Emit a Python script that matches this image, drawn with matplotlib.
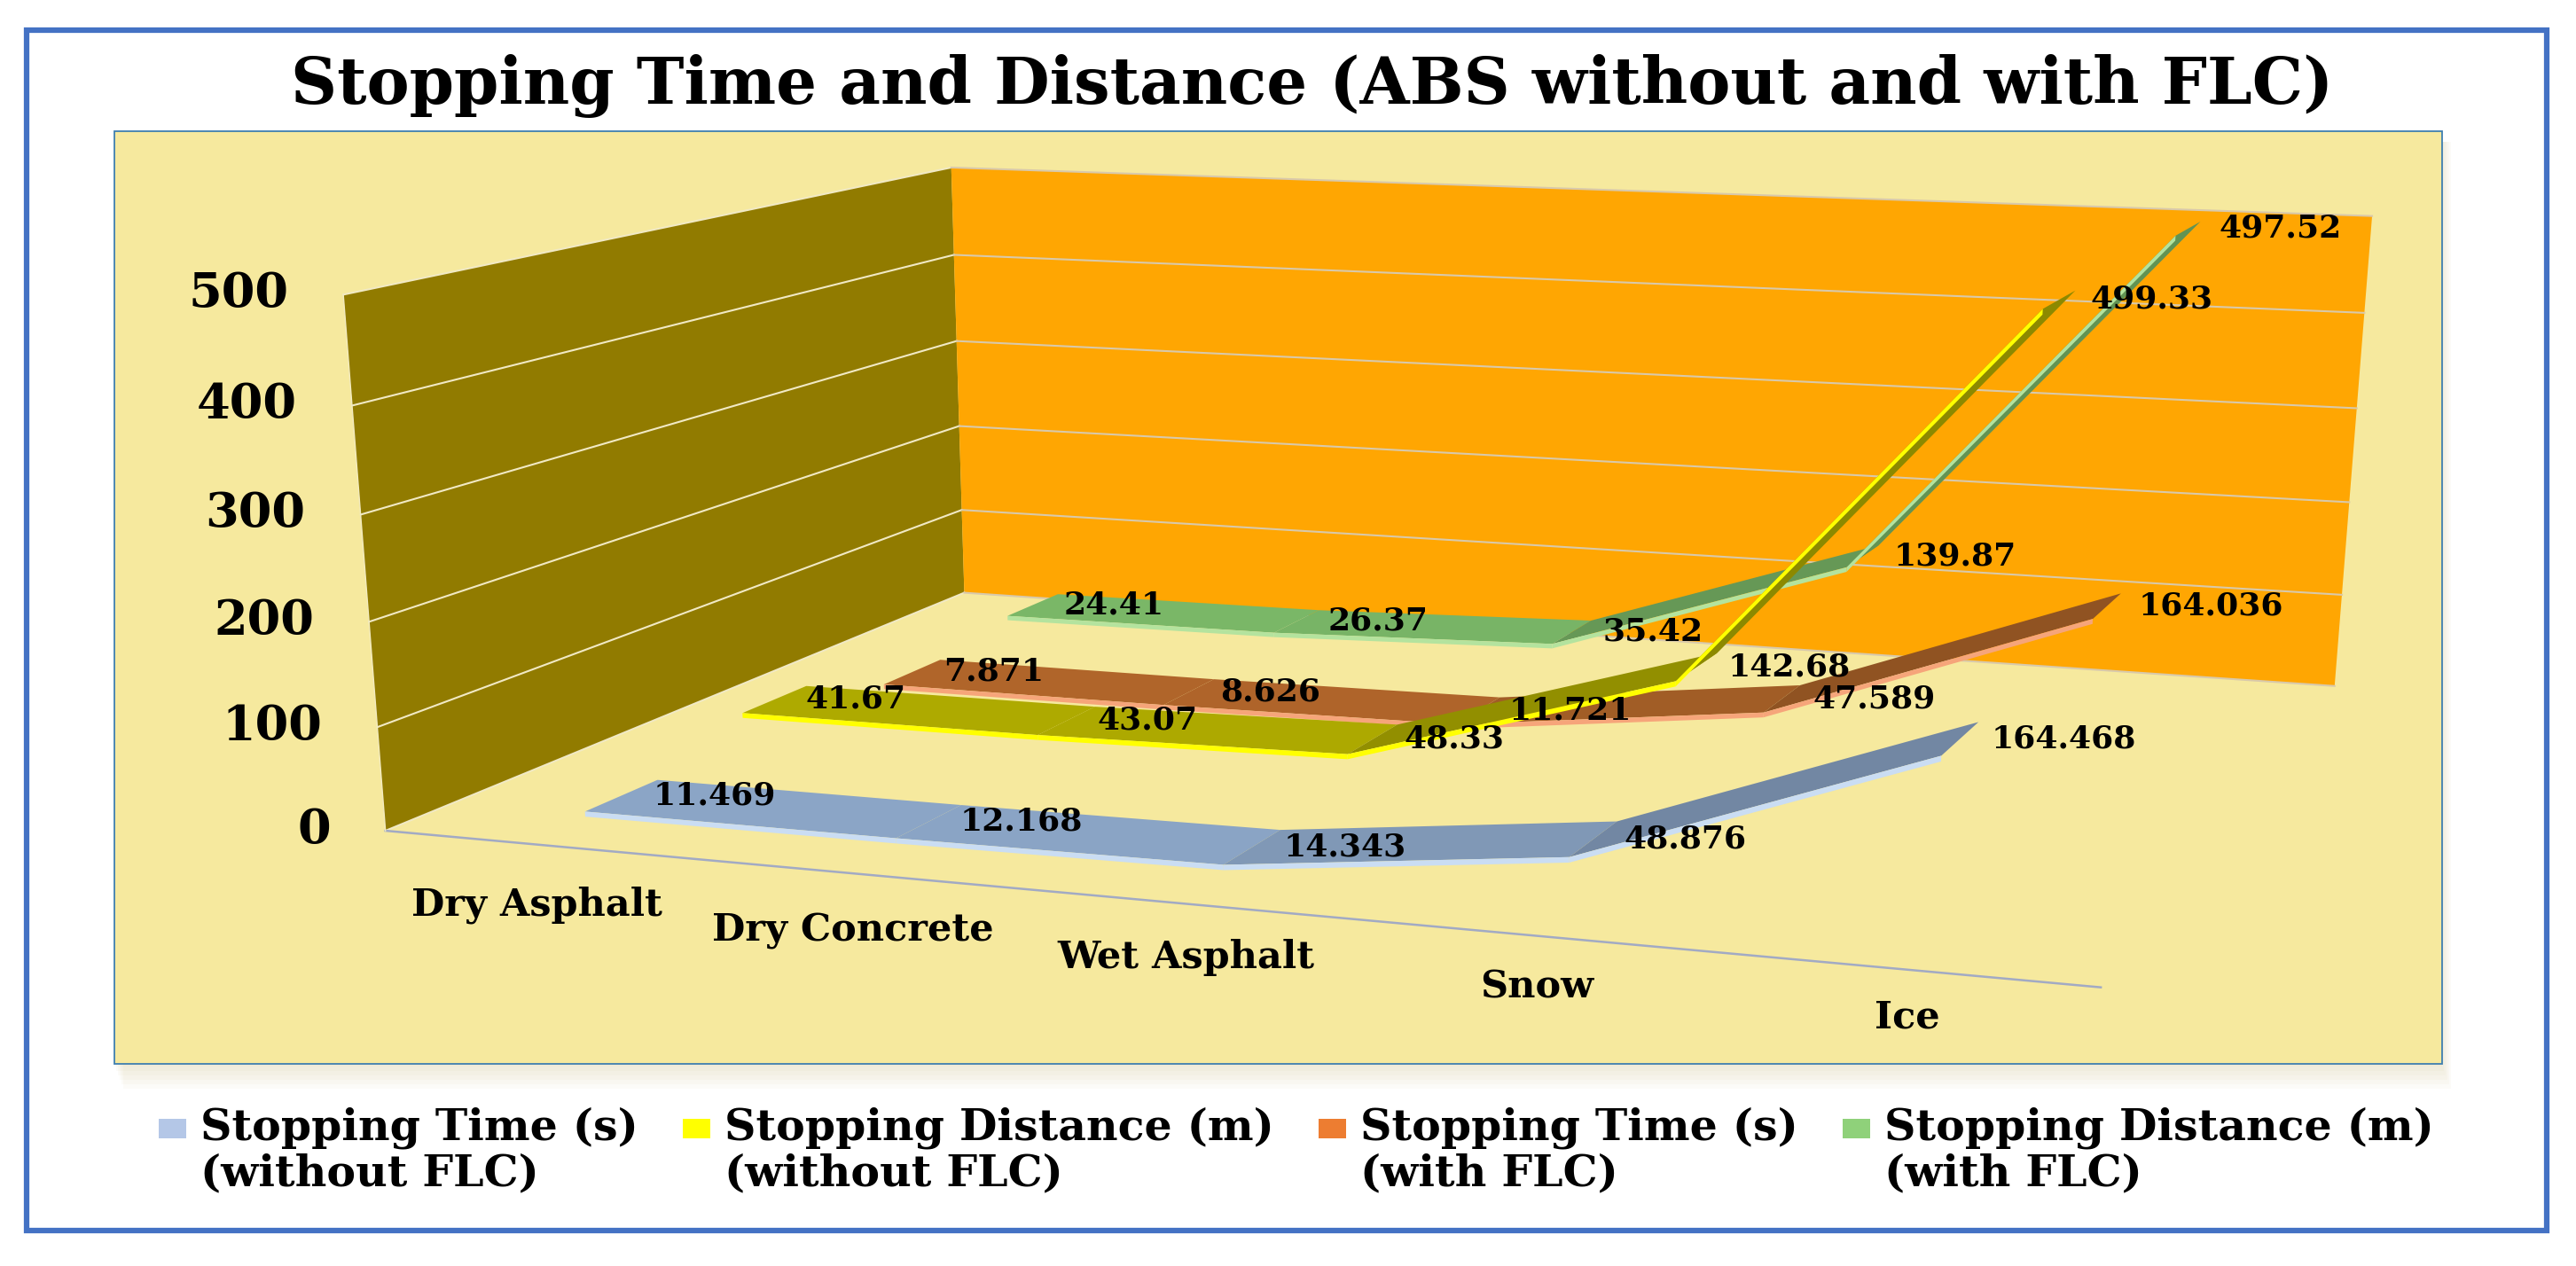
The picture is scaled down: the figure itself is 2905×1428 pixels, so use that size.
import numpy as np
import matplotlib
matplotlib.use("Agg")
import matplotlib.pyplot as plt
import matplotlib.colors as mcolors
from matplotlib.patches import Rectangle
from matplotlib.transforms import offset_copy
from mpl_toolkits.mplot3d import proj3d
from mpl_toolkits.mplot3d.art3d import Poly3DCollection

# ---------------- data ----------------
categories = ["Dry Asphalt", "Dry Concrete", "Wet Asphalt", "Snow", "Ice"]
time_without_flc = [11.469, 12.168, 14.343, 48.876, 164.468]
dist_without_flc = [41.67, 43.07, 48.33, 142.68, 499.33]
time_with_flc = [7.871, 8.626, 11.721, 47.589, 164.036]
dist_with_flc = [24.41, 26.37, 35.42, 139.87, 497.52]
value_ticks = [0, 100, 200, 300, 400, 500]
series_names = ["Stopping Time (s)\n(without FLC)",
                "Stopping Distance (m)\n(without FLC)",
                "Stopping Time (s)\n(with FLC)",
                "Stopping Distance (m)\n(with FLC)"]
title_text = "Stopping Time and Distance (ABS without and with FLC)"

series_values = [time_without_flc, dist_without_flc, time_with_flc, dist_with_flc]

# ---------------- styles ----------------
top_colors = ["#8BA5C6", "#AFAB00", "#B0652A", "#7BB868"]
front_colors = ["#CADDF3", "#FFFF00", "#F6A57A", "#B4E39E"]
legend_colors = ["#B4C7E7", "#FFFF00", "#ED7D31", "#8FD17A"]
left_wall_color = "#917B00"
back_wall_color = "#FFA602"
floor_color = "#F6E99E"
plot_bg = "#F6E99E"

plt.rcParams["font.family"] = ["DejaVu Serif"]
plt.rcParams["font.weight"] = "bold"

W, H = 2905, 1428
fig = plt.figure(figsize=(W / 100, H / 100), dpi=100, facecolor="white")
renderer = fig.canvas.get_renderer()


def px_rect(x0, y0, x1, y1, **kw):
    r = Rectangle((x0 / W, 1 - y1 / H), (x1 - x0) / W, (y1 - y0) / H,
                  transform=fig.transFigure, **kw)
    fig.add_artist(r)
    return r


# outer frame, plot area with soft shadow
px_rect(30, 34, 2872, 1388, fill=False, edgecolor="#4472C4", linewidth=4.5, zorder=-1)
for k in range(6):
    px_rect(129 + 2 * k, 160, 2754 + 2 * k, 1203 + 5 * k, facecolor="#C9BC7A",
            edgecolor="none", alpha=0.05, zorder=-4)
px_rect(129, 148, 2754, 1200, facecolor=plot_bg, edgecolor="#3F7FB0",
        linewidth=1.3, zorder=-2)

# title (scaled to the reference width)
ttl = fig.text(1480 / W, 1 - 117 / H, title_text, ha="center", va="baseline",
               fontsize=50, weight="bold", color="black")
tw = ttl.get_window_extent(renderer).width
ttl.set_fontsize(50 * 2305 / tw)

# ---------------- 3D axes ----------------
ax = fig.add_axes([0, 0, 1, 1], projection="3d", computed_zorder=False)
ax.set_axis_off()
ax.set_facecolor((0, 0, 0, 0))

XN, YN, ZN = float(len(categories)), float(len(series_values)), float(value_ticks[-1])
box_unit = np.array([[0, 0, 0], [0, 0, 1], [0, 1, 1], [0, 1, 0],
                     [1, 1, 1], [1, 1, 0], [1, 0, 0]], float)
corner_world = box_unit * np.array([XN, YN, ZN])
# where the chart box corners sit in the reference layout (pixels)
corner_img = np.array([[435, 937], [387, 332], [1073, 189], [1087, 669],
                       [2675, 244], [2633, 773], [2369, 1114]], float)
corner_disp = np.column_stack([corner_img[:, 0], H - corner_img[:, 1]])


def set_view(p):
    elev, azim, roll, lf, lay, laz, dx, dy, dz = p
    ax.view_init(elev=elev, azim=azim, roll=roll)
    ax.set_proj_type("persp", focal_length=float(np.exp(lf)))
    ax.set_box_aspect((1.0, float(np.exp(lay)), float(np.exp(laz))))
    ax.set_xlim3d(dx * XN, XN + dx * XN)
    ax.set_ylim3d(dy * YN, YN + dy * YN)
    ax.set_zlim3d(dz * ZN, ZN + dz * ZN)


def project(p, pts):
    set_view(p)
    M = ax.get_proj()
    u, v, _ = proj3d.proj_transform(pts[:, 0], pts[:, 1], pts[:, 2], M)
    return np.column_stack([u, v])


def sim_fit(uv, tg):
    mu = uv.mean(0)
    mt = tg.mean(0)
    a = uv - mu
    b = tg - mt
    s = (a * b).sum() / (a * a).sum()
    t = mt - s * mu
    res = s * uv + t - tg
    return s, t, float((res ** 2).sum())


def objective(p):
    if np.exp(p[3]) < 0.05 or abs(p[0]) > 80:
        return 1e12
    try:
        uv = project(p, corner_world)
    except Exception:
        return 1e12
    if not np.all(np.isfinite(uv)):
        return 1e12
    s, t, e = sim_fit(uv, corner_disp)
    if s <= 0:
        return 1e12
    return e


def nelder_mead(f, x0, step, iters=2000):
    n = len(x0)
    pts = [np.array(x0, float)]
    for i in range(n):
        x = np.array(x0, float)
        x[i] += step[i]
        pts.append(x)
    vals = [f(x) for x in pts]
    for _ in range(iters):
        order = np.argsort(vals)
        pts = [pts[i] for i in order]
        vals = [vals[i] for i in order]
        c = np.mean(pts[:-1], axis=0)
        xr = c + (c - pts[-1])
        fr = f(xr)
        if fr < vals[0]:
            xe = c + 2 * (c - pts[-1])
            fe = f(xe)
            if fe < fr:
                pts[-1], vals[-1] = xe, fe
            else:
                pts[-1], vals[-1] = xr, fr
        elif fr < vals[-2]:
            pts[-1], vals[-1] = xr, fr
        else:
            xc = c + 0.5 * (pts[-1] - c)
            fc = f(xc)
            if fc < vals[-1]:
                pts[-1], vals[-1] = xc, fc
            else:
                for i in range(1, n + 1):
                    pts[i] = pts[0] + 0.5 * (pts[i] - pts[0])
                    vals[i] = f(pts[i])
    i = int(np.argmin(vals))
    return pts[i], vals[i]


steps = np.array([6., 6., 2., 0.4, 0.25, 0.25, 0.3, 0.3, 0.5])
best_p, best_v = None, np.inf
for start in ([20.865, -69.755, 0.074, 0.079, -0.22, -1.193, -1.531, 4.959, -7.31],
              [20., -69., 0., np.log(0.35), np.log(0.7), np.log(0.31), 0., 0., -1.0]):
    p = np.array(start)
    v = objective(p)
    for r in range(3):
        p, v = nelder_mead(objective, p, steps * (0.5 ** (r + 1)), iters=1200)
    if v < best_v:
        best_p, best_v = p, v

uv = project(best_p, corner_world)
s_fit, t_fit, e_fit = sim_fit(uv, corner_disp)

# place the (square) 3D axes so that its projection matches the target layout
ax.apply_aspect()
pos = ax.get_position()
pos0 = np.array([pos.x0 * W, pos.y0 * H])
L0 = np.array([pos.width * W, pos.height * H])
o = ax.transData.transform([[0.0, 0.0], [1.0, 1.0]])
kk = o[1] - o[0]
vmin = (pos0 - o[0]) / kk
new_pos0 = t_fit + s_fit * vmin
new_L = L0 * s_fit / kk
ax.set_position([new_pos0[0] / W, new_pos0[1] / H, new_L[0] / W, new_L[1] / H])
set_view(best_p)
M_final = ax.get_proj()


def proj2d(x, y, z):
    u, v, _ = proj3d.proj_transform(np.atleast_1d(float(x)), np.atleast_1d(float(y)),
                                    np.atleast_1d(float(z)), M_final)
    return float(u[0]), float(v[0])


def label2d(x, y, z, s, dx=0.0, dy=0.0, **kw):
    u, v = proj2d(x, y, z)
    tr = offset_copy(ax.transData, fig=fig, x=dx, y=dy, units="dots")
    return ax.text2D(u, v, s, transform=tr, **kw)


# ---------------- walls, floor, grid ----------------
for verts, col in (([(0, 0, 0), (0, YN, 0), (0, YN, ZN), (0, 0, ZN)], left_wall_color),
                   ([(0, YN, 0), (XN, YN, 0), (XN, YN, ZN), (0, YN, ZN)], back_wall_color),
                   ([(0, 0, 0), (XN, 0, 0), (XN, YN, 0), (0, YN, 0)], floor_color)):
    pc = Poly3DCollection([verts], facecolors=[col], edgecolors="none", linewidths=0)
    pc.set_zorder(1)
    pc.set_clip_on(False)
    ax.add_collection3d(pc, autolim=False)

for zt in value_ticks:
    ax.plot([0, 0], [0, YN], [zt, zt], color="#F1E9C4", lw=1.5, zorder=2, clip_on=False)
    ax.plot([0, XN], [YN, YN], [zt, zt], color="#D9C9AA", lw=1.5, zorder=2, clip_on=False)
ax.plot([0, XN], [0, 0], [0, 0], color="#A2AAC4", lw=1.8, zorder=2, clip_on=False)
ax.plot([0, 0], [0, 0], [0, ZN], color="#F3EBC0", lw=1.0, zorder=2, clip_on=False)

for zt in value_ticks:
    label2d(0, 0, zt, f"{zt}", dx=-62, dy=0, ha="right", va="center", fontsize=39,
            weight="bold", color="black", zorder=20)

xs = np.arange(len(categories)) + 0.5
for i, (xi, cat) in enumerate(zip(xs, categories)):
    label2d(xi, 0, 0, cat, dx=0, dy=-(68 - 3.5 * i), ha="center", va="center",
            fontsize=31, weight="bold", color="black", zorder=20)

# ---------------- ribbons ----------------
hw = 0.22
th = 5.0
for j in reversed(range(len(series_values))):
    vals = np.asarray(series_values[j], float)
    yc = j + 0.5
    y0, y1 = yc - hw, yc + hw
    polys, fcs = [], []
    base_top = np.array(mcolors.to_rgb(top_colors[j]))
    for i in range(len(vals) - 1):
        xa, xb = xs[i], xs[i + 1]
        va, vb = vals[i], vals[i + 1]
        shade = 1 - 0.2 * np.tanh(abs(vb - va) / 80.0)
        polys.append([(xa, y0, va - th), (xb, y0, vb - th), (xb, y0, vb), (xa, y0, va)])
        fcs.append(front_colors[j])
        polys.append([(xa, y0, va), (xb, y0, vb), (xb, y1, vb), (xa, y1, va)])
        fcs.append(tuple(base_top * shade))
    coll = Poly3DCollection(polys, facecolors=fcs, edgecolors="none", linewidths=0)
    coll.set_zorder(5 + (len(series_values) - j))
    coll.set_clip_on(False)
    ax.add_collection3d(coll, autolim=False)
    for xi, v in zip(xs, vals):
        label2d(xi, yc, v, f"{v}", dx=35, dy=0, ha="left", va="center", fontsize=26,
                weight="bold", color="black", zorder=30)

set_view(best_p)

# ---------------- legend ----------------
sq_w, sq_h, pad, gap = 31, 22, 16, 50
widths = []
for name in series_names:
    t = fig.text(0, 0, name, fontsize=30, weight="bold", linespacing=1.1)
    widths.append(t.get_window_extent(renderer).width)
    t.remove()
leg_target = 2566 - 4 * (sq_w + pad) - 3 * gap
leg_fs = 30 * leg_target / sum(widths)
widths = [w * leg_fs / 30 for w in widths]
total = sum(sq_w + pad + w for w in widths) + gap * (len(widths) - 1)
x = 1462 - total / 2
for name, col, w in zip(series_names, legend_colors, widths):
    px_rect(x, 1262, x + sq_w, 1284, facecolor=col, edgecolor="none", zorder=5)
    fig.text((x + sq_w + pad) / W, 1 - 1298 / H, name, ha="left", va="center",
             fontsize=leg_fs, weight="bold", linespacing=1.1, color="black")
    x += sq_w + pad + w + gap

fig.savefig("out.png", dpi=100, facecolor="white")
